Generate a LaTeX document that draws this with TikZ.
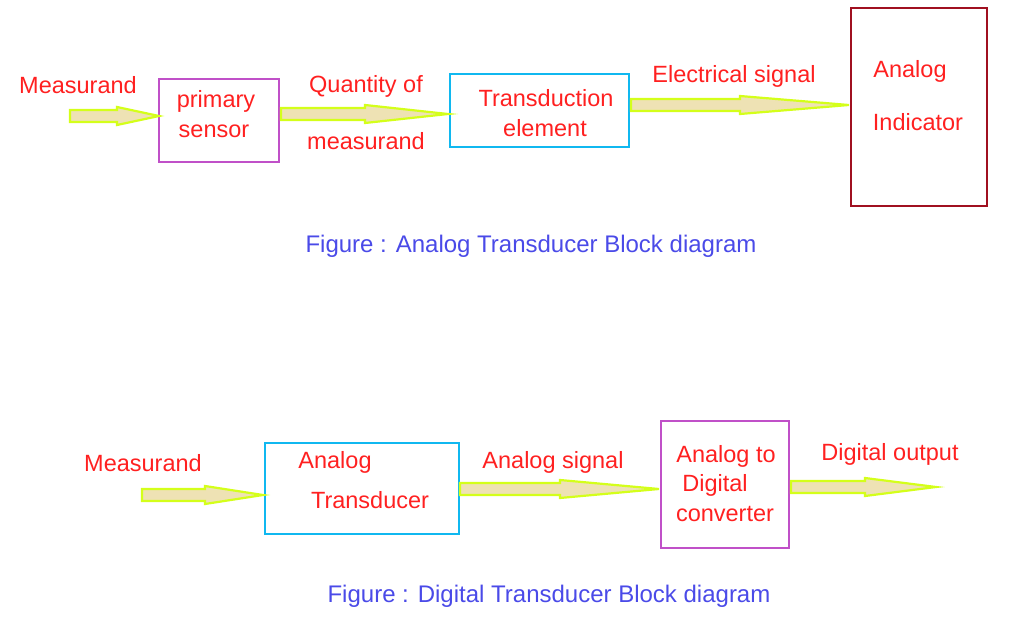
\documentclass[tikz,border=0pt]{standalone}
\usepackage{fontspec}
\setmainfont{Liberation Sans}
\definecolor{tred}{HTML}{FF2020}
\definecolor{tblue}{HTML}{4A4AE8}
\definecolor{bpurple}{HTML}{C050C8}
\definecolor{bcyan}{HTML}{10B8F0}
\definecolor{bdred}{HTML}{A01020}
\definecolor{afill}{HTML}{EEE2B4}
\definecolor{aline}{HTML}{D4FF1A}
\tikzset{
  lbl/.style={text=tred,font=\fontsize{23.5}{26}\selectfont,inner sep=0pt},
  figcap/.style={text=tblue,font=\fontsize{24}{26}\selectfont,inner sep=0pt},
  blk/.style={draw=#1,line width=2.2pt,inner sep=0pt},
  fatarrow/.style={fill=afill,draw=aline,line width=2.2pt,line join=miter}
}
\newcommand{\fatarr}[4]{% x1, xhead, x2, y
  \path[fatarrow] (#1,#4-6) -- (#2,#4-6) -- (#2,#4-9) -- (#3,#4) -- (#2,#4+9) -- (#2,#4+6) -- (#1,#4+6) -- cycle;}
\begin{document}
\begin{tikzpicture}[x=1pt,y=-1pt]
\useasboundingbox (0,0) rectangle (1015,626);
% top
\node[blk=bpurple,minimum width=120,minimum height=83] (ps) at (219,120.5) {};
\node[blk=bcyan,minimum width=179,minimum height=73] (te) at (539.5,110.5) {};
\node[blk=bdred,minimum width=136,minimum height=198] (ai) at (919,107) {};
\fatarr{70}{117}{159}{116}
\fatarr{281}{365}{448}{114}
\fatarr{631}{740}{849}{105}
\node[lbl] (t1) at (78,85) {Measurand};
\node[lbl] (t2) at (216,101) {primary};
\node[lbl] (t3) at (214,131) {sensor};
\node[lbl] (t4) at (366,86) {Quantity of};
\node[lbl] (t5) at (366,141) {measurand};
\node[lbl] (t6) at (546,98) {Transduction};
\node[lbl] (t7) at (545,128) {element};
\node[lbl] (t8) at (734,76) {Electrical signal};
\node[lbl] (t9) at (910,71) {Analog};
\node[lbl] (t10) at (918,122) {Indicator};
\node[figcap] (c1) at (531,246) {Figure : Analog Transducer Block diagram};
% bottom
\node[blk=bcyan,minimum width=194,minimum height=91] (at) at (362,488.5) {};
\node[blk=bpurple,minimum width=128,minimum height=127] (adc) at (725,484.5) {};
\fatarr{142}{205}{263}{495}
\fatarr{460}{560}{659}{489}
\fatarr{791}{865}{936}{487}
\node[lbl] (b1) at (143,463) {Measurand};
\node[lbl] (b2) at (335,462) {Analog};
\node[lbl] (b3) at (370,500) {Transducer};
\node[lbl] (b4) at (553,462) {Analog signal};
\node[lbl] (b5) at (726,456) {Analog to};
\node[lbl] (b6) at (715,485) {Digital};
\node[lbl] (b7) at (725,514) {converter};
\node[lbl] (b8) at (890,454) {Digital output};
\node[figcap] (c2) at (549,596) {Figure : Digital Transducer Block diagram};
\end{tikzpicture}
\end{document}
